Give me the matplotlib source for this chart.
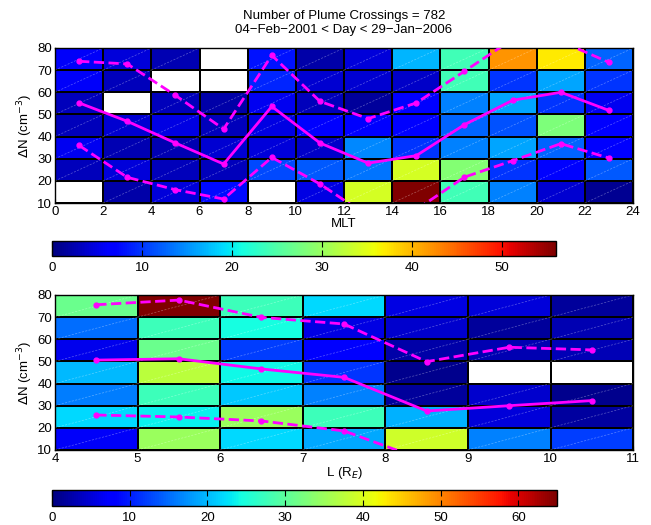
import numpy as np
import matplotlib
matplotlib.use("Agg")
import matplotlib.pyplot as plt
from matplotlib.collections import LineCollection

plt.rcParams['font.family'] = ['Liberation Sans', 'DejaVu Sans']
plt.rcParams['font.size'] = 9.5
plt.rcParams['axes.unicode_minus'] = True

nan = np.nan

# --- bins ---
dn_edges = [10, 20, 30, 40, 50, 60, 70, 80]
mlt_edges = [0, 2, 4, 6, 8, 10, 12, 14, 16, 18, 20, 22, 24]
l_edges = [4, 5, 6, 7, 8, 9, 10, 11]

# counts per cell, rows = dN bins from 10-20 (bottom) up to 70-80 (top)
mlt_counts = [
    [nan, 2.0, 4.5, 7.5, nan, 5.0, 34, 56, 24, 14, 4.0, 1.0],        # 10-20
    [3.0, 4.5, 3.0, 3.0, 11, 12, 13.5, 34, 28.5, 10, 7.0, 12],        # 20-30
    [5.5, 2.5, 2.5, 4.0, 4.5, 3.5, 14.5, 10, 14, 16, 12.5, 6.5],      # 30-40
    [3.0, 4.0, 5.0, 3.0, 5.0, 6.5, 6.5, 6.5, 12.5, 11.5, 28, 6.5],    # 40-50
    [3.0, nan, 3.0, 2.0, 5.5, 3.0, 1.5, 6.5, 14, 16, 10, 5.5],        # 50-60
    [6.0, 3.0, nan, nan, 9.0, 4.0, 4.0, 3.5, 24, 10, 16, 10],         # 60-70
    [6.0, 4.5, 2.5, nan, 8.0, 2.0, 4.5, 17, 24, 42, 37, 12.5],        # 70-80
]
l_counts = [
    [7.0, 35, 22, 19, 39, 16.5, 12],         # 10-20
    [22, 23.5, 35, 27.5, 19.5, 5.3, 2.0],    # 20-30
    [16, 27.5, 21, 16.5, 1.6, 4.5, 1.0],     # 30-40
    [20, 37.5, 24, 11.5, 1.0, nan, nan],     # 40-50
    [6.2, 31, 12, 8.0, 2.4, 2.8, 3.2],       # 50-60
    [15, 27.5, 24.5, 5.8, 4.5, 1.6, 2.8],    # 60-70
    [31, 65, 27.5, 22, 5.8, 5.3, 1.6],       # 70-80
]

# median and quartile curves
mlt_centers = [1, 3, 5, 7, 9, 11, 13, 15, 17, 19, 21, 23]
mlt_median = [55.2, 46.9, 37.1, 27.6, 53.6, 37.1, 28.0, 31.4, 45.4, 56.4, 60.0, 51.8]
mlt_upper = [74.0, 72.8, 58.6, 43.4, 76.7, 55.9, 48.1, 55.2, 69.5, 84.0, 83.0, 73.5]
mlt_lower = [36.0, 21.6, 16.0, 11.8, 30.6, 18.6, 4.0, 7.0, 21.7, 29.1, 36.8, 30.3]

l_centers = [4.5, 5.5, 6.5, 7.5, 8.5, 9.5, 10.5]
l_median = [50.6, 51.2, 46.6, 42.8, 27.6, 30.0, 32.3]
l_upper = [75.6, 77.7, 69.9, 66.9, 49.9, 56.4, 55.2]
l_lower = [25.8, 24.9, 23.1, 18.6, 5.0, nan, nan]

n_crossings = 782
title_text = "Number of Plume Crossings = %d\n04\u2212Feb\u22122001 < Day < 29\u2212Jan\u22122006" % n_crossings


def draw_panel(ax, xedges, counts, vmax, centers, med, up, lo, xticks, xlabel):
    c = np.ma.masked_invalid(np.array(counts, dtype=float))
    mesh = ax.pcolormesh(xedges, dn_edges, c, cmap='jet', vmin=0, vmax=vmax,
                         edgecolors='black', linewidth=1.2)
    # faint diagonal seams like the original renderer
    segs = []
    for j in range(len(dn_edges) - 1):
        for i in range(len(xedges) - 1):
            if not np.isnan(counts[j][i]):
                segs.append([(xedges[i], dn_edges[j]), (xedges[i + 1], dn_edges[j + 1])])
    ax.add_collection(LineCollection(segs, colors='white', linewidths=0.5,
                                     alpha=0.35, linestyles=(0, (3, 2)), zorder=2))
    ax.plot(centers, med, '-', color='#ff00ff', lw=2, marker='o', ms=3.5, zorder=4)
    ax.plot(centers, up, '--', color='#ff00ff', lw=2, marker='o', ms=3.5, zorder=4)
    ax.plot(centers, lo, '--', color='#ff00ff', lw=2, marker='o', ms=3.5, zorder=4)
    ax.set_xlim(xedges[0], xedges[-1])
    ax.set_ylim(10, 80)
    ax.set_xticks(xticks)
    ax.set_yticks(np.arange(10, 81, 10))
    ax.tick_params(direction='in', length=3, top=False, right=False, pad=2)
    ax.set_xlabel(xlabel, labelpad=0)
    ax.set_ylabel(r'$\Delta$N (cm$^{-3}$)', labelpad=2)
    for s in ax.spines.values():
        s.set_linewidth(1.0)
    return mesh


def draw_cbar(fig, rect, mesh, ticks):
    cax = fig.add_axes(rect)
    cb = fig.colorbar(mesh, cax=cax, orientation='horizontal', ticks=ticks)
    cb.outline.set_linewidth(1.0)
    cax.tick_params(direction='in', length=4, top=True, bottom=True, pad=4)
    return cb


fig = plt.figure(figsize=(6.51, 5.25), dpi=100)

ax1 = fig.add_axes([0.0845, 0.6133, 0.888, 0.2953])
m1 = draw_panel(ax1, mlt_edges, mlt_counts, 56, mlt_centers, mlt_median, mlt_upper,
                mlt_lower, np.arange(0, 25, 2), 'MLT')
ax1.set_title(title_text, fontsize=9.5, pad=11, linespacing=1.15)
draw_cbar(fig, [0.0799, 0.5124, 0.774, 0.0286], m1, [0, 10, 20, 30, 40, 50])

ax2 = fig.add_axes([0.0845, 0.1429, 0.888, 0.2952])
m2 = draw_panel(ax2, l_edges, l_counts, 65, l_centers, l_median, l_upper,
                l_lower, np.arange(4, 12, 1), r'L (R$_E$)')
draw_cbar(fig, [0.0799, 0.0362, 0.776, 0.0305], m2, [0, 10, 20, 30, 40, 50, 60])

fig.savefig('out.png', dpi=100)
